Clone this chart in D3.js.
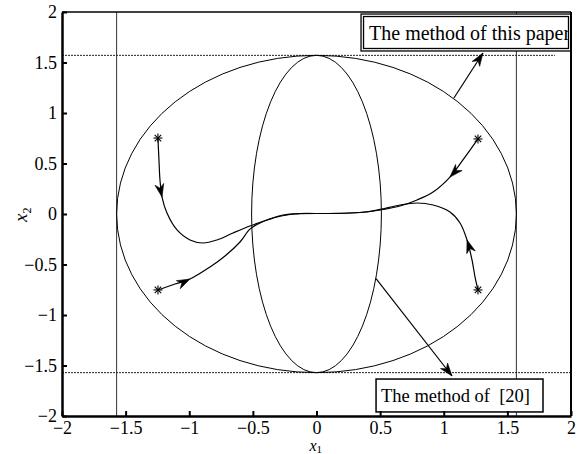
<!DOCTYPE html>
<html>
<head>
<meta charset="utf-8">
<script src="https://cdn.jsdelivr.net/npm/d3@7"></script>
<style>
body { margin: 0; background: #fff; }
text { font-family: "Liberation Serif", "Times New Roman", serif; fill: #000; }
</style>
</head>
<body>
<div id="chart"></div>
<script>
// axis ticks
var tickValues = [-2, -1.5, -1, -0.5, 0, 0.5, 1, 1.5, 2];
var tickLabels = ["\u22122", "\u22121.5", "\u22121", "\u22120.5", "0", "0.5", "1", "1.5", "2"];

// the two regions (semi axes)
var halfPi = Math.PI / 2;
var bigEllipse = [halfPi, halfPi];
var narrowEllipse = [0.51, halfPi];

// initial points
var stars = [[-1.246, 0.752], [1.269, 0.743], [-1.246, -0.752], [1.269, -0.752]];

// trajectories
var trajTopLeft = [[-1.246, 0.752], [-1.238, 0.535], [-1.230, 0.337], [-1.214, 0.168], [-1.175, 0.010],
  [-1.096, -0.158], [-0.994, -0.257], [-0.892, -0.287], [-0.782, -0.257], [-0.656, -0.188],
  [-0.523, -0.119], [-0.389, -0.059], [-0.263, -0.010], [-0.130, 0.005], [0, 0.005]];
var trajBottomLeft = [[-1.246, -0.752], [-1.112, -0.693], [-0.994, -0.644], [-0.837, -0.525],
  [-0.719, -0.416], [-0.601, -0.277], [-0.523, -0.150], [-0.444, -0.089], [-0.326, -0.035],
  [-0.208, -0.005], [0, 0.005]];
var trajTopRight = [[1.269, 0.743], [1.151, 0.535], [1.049, 0.366], [0.916, 0.218], [0.790, 0.139],
  [0.656, 0.079], [0.499, 0.040], [0.397, 0.020], [0.263, 0.010], [0, 0.005]];
var trajBottomRight = [[1.269, -0.752], [1.246, -0.624], [1.222, -0.455], [1.183, -0.257],
  [1.128, -0.089], [1.049, 0.020], [0.916, 0.089], [0.790, 0.109], [0.656, 0.089], [0.499, 0.045],
  [0.397, 0.022], [0.263, 0.010], [0, 0.005]];
var trajectories = [trajTopLeft, trajBottomLeft, trajTopRight, trajBottomRight];
var arrowIndex = [3, 2, 2, 3];

// limit lines and annotations
var limitX = [-halfPi, halfPi];
var limitY = [halfPi, -halfPi];
var limitYEnd = [1.874, 2];
var labelTop = "The method of this paper";
var labelBottom = "The method of  [20]";
var boxTop = [0.35, 2.0, 1.98, 1.614];
var boxBottom = [0.468, 1.78, -1.634, -1.96];
var pointerTop = [[1.08, 1.149], [1.308, 1.594]];
var pointerBottom = [[0.468, -0.64], [1.065, -1.604]];

var width = 581, height = 454;
var margin = { top: 12, right: 10, bottom: 38, left: 62 };
var w = width - margin.left - margin.right;
var h = height - margin.top - margin.bottom;
var serif = "'Liberation Serif', 'Times New Roman', serif";

var svg = d3.select("#chart").append("svg")
  .attr("width", width)
  .attr("height", height);

var panel = svg.append("g")
  .attr("transform", "translate(" + margin.left + "," + margin.top + ")");

var x = d3.scaleLinear().domain([-2, 2]).range([0, w]);
var y = d3.scaleLinear().domain([-2, 2]).range([h, 0]);

// limit lines
limitX.forEach(function(v) {
  panel.append("line")
    .attr("x1", x(v)).attr("x2", x(v))
    .attr("y1", y(2)).attr("y2", y(-2))
    .attr("stroke", "#333").attr("stroke-width", 1);
});
limitY.forEach(function(v, i) {
  panel.append("line")
    .attr("x1", x(-2)).attr("x2", x(limitYEnd[i]))
    .attr("y1", y(v)).attr("y2", y(v))
    .attr("stroke", "#222").attr("stroke-width", 1)
    .attr("stroke-dasharray", "2,1");
});

// ellipses
[bigEllipse, narrowEllipse].forEach(function(e) {
  panel.append("ellipse")
    .attr("cx", x(0)).attr("cy", y(0))
    .attr("rx", x(e[0]) - x(0)).attr("ry", y(0) - y(e[1]))
    .attr("fill", "none").attr("stroke", "#000").attr("stroke-width", 1);
});

// arrow head drawn with tip at (px, py), pointing along angle
function arrowHead(g, px, py, ang, len, wid) {
  var c = Math.cos(ang), s = Math.sin(ang);
  function pt(a, b) { return [px + a * c - b * s, py + a * s + b * c]; }
  var p = [pt(0, 0), pt(-len, wid / 2), pt(-len * 0.7, 0), pt(-len, -wid / 2)];
  g.append("path")
    .attr("d", "M" + p.join("L") + "Z")
    .attr("fill", "#000").attr("stroke", "#000").attr("stroke-width", 0.6);
}

// trajectories
var line = d3.line()
  .x(function(d) { return x(d[0]); })
  .y(function(d) { return y(d[1]); })
  .curve(d3.curveCatmullRom);

trajectories.forEach(function(t, k) {
  panel.append("path")
    .datum(t)
    .attr("d", line)
    .attr("fill", "none").attr("stroke", "#000").attr("stroke-width", 1.2);
  var i = arrowIndex[k];
  var a = t[i - 1], b = t[i + 1];
  var ang = Math.atan2(y(b[1]) - y(a[1]), x(b[0]) - x(a[0]));
  arrowHead(panel, x(t[i][0]), y(t[i][1]), ang, 13, 9);
});

// star markers
stars.forEach(function(s) {
  var g = panel.append("g").attr("transform", "translate(" + x(s[0]) + "," + y(s[1]) + ")");
  var r = 4.5, d = r * 0.72;
  [[0, -r, 0, r], [-r, 0, r, 0], [-d, -d, d, d], [-d, d, d, -d]].forEach(function(l) {
    g.append("line").attr("x1", l[0]).attr("y1", l[1]).attr("x2", l[2]).attr("y2", l[3])
      .attr("stroke", "#000").attr("stroke-width", 1.1);
  });
});

// pointer arrows
[pointerTop, pointerBottom].forEach(function(p) {
  var x1 = x(p[0][0]), y1 = y(p[0][1]), x2 = x(p[1][0]), y2 = y(p[1][1]);
  panel.append("line")
    .attr("x1", x1).attr("y1", y1).attr("x2", x2).attr("y2", y2)
    .attr("stroke", "#000").attr("stroke-width", 1.2);
  arrowHead(panel, x2, y2, Math.atan2(y2 - y1, x2 - x1), 13, 9);
});

// annotation boxes
function drawBox(b, label, dbl, fontSize, pad) {
  var bx = x(b[0]), by = y(b[2]), bw = x(b[1]) - x(b[0]), bh = y(b[3]) - y(b[2]);
  panel.append("rect")
    .attr("x", bx).attr("y", by).attr("width", bw).attr("height", bh)
    .attr("fill", "#fff").attr("stroke", "#000").attr("stroke-width", dbl ? 1.3 : 1.5);
  if (dbl) {
    panel.append("rect")
      .attr("x", bx + 2.5).attr("y", by + 2.5).attr("width", bw - 5).attr("height", bh - 5)
      .attr("fill", "none").attr("stroke", "#000").attr("stroke-width", 1.3);
  }
  var id = "clip" + (dbl ? 1 : 2);
  panel.append("clipPath").attr("id", id)
    .append("rect").attr("x", bx).attr("y", by).attr("width", bw - 3).attr("height", bh);
  panel.append("text")
    .attr("clip-path", "url(#" + id + ")")
    .attr("x", bx + pad).attr("y", by + bh / 2)
    .attr("dy", "0.35em")
    .attr("font-family", serif)
    .style("font-size", fontSize + "px")
    .style("white-space", "pre")
    .text(label);
}
drawBox(boxTop, labelTop, true, 20, 8);
drawBox(boxBottom, labelBottom, false, 18.5, 5);

// axes
var xAxis = d3.axisBottom(x).tickValues(tickValues)
  .tickFormat(function(d, i) { return tickLabels[i]; })
  .tickSizeInner(-5).tickSizeOuter(0).tickPadding(5);
var yAxis = d3.axisLeft(y).tickValues(tickValues)
  .tickFormat(function(d, i) { return tickLabels[i]; })
  .tickSizeInner(-5).tickSizeOuter(0).tickPadding(5);

var gx = panel.append("g").attr("transform", "translate(0," + h + ")").call(xAxis);
var gy = panel.append("g").call(yAxis);
[gx, gy].forEach(function(g) {
  g.attr("font-family", serif).attr("font-size", 18);
  g.select(".domain").attr("stroke", "#000").attr("stroke-width", 2.5);
  g.selectAll(".tick line").attr("stroke", "#000").attr("stroke-width", 2);
  g.selectAll(".tick text").attr("font-family", serif).style("font-family", serif);
});

// top and right frame
panel.append("line").attr("x1", 0).attr("x2", w).attr("y1", 0).attr("y2", 0)
  .attr("stroke", "#000").attr("stroke-width", 1.5);
panel.append("line").attr("x1", w).attr("x2", w).attr("y1", 0).attr("y2", h)
  .attr("stroke", "#000").attr("stroke-width", 2);

// axis titles
var xt = svg.append("text")
  .attr("x", margin.left + x(0) - 7).attr("y", height - 3)
  .attr("font-family", serif)
  .style("font-size", "16px");
xt.append("tspan").style("font-style", "italic").text("x");
xt.append("tspan").attr("dy", 2).style("font-size", "11px").text("1");

var yt = svg.append("text")
  .attr("transform", "translate(27," + (margin.top + y(0) + 8) + ") rotate(-90)")
  .attr("font-family", serif)
  .style("font-size", "19px");
yt.append("tspan").style("font-style", "italic").text("x");
yt.append("tspan").attr("dy", 4).style("font-size", "12px").text("2");
</script>
</body>
</html>
